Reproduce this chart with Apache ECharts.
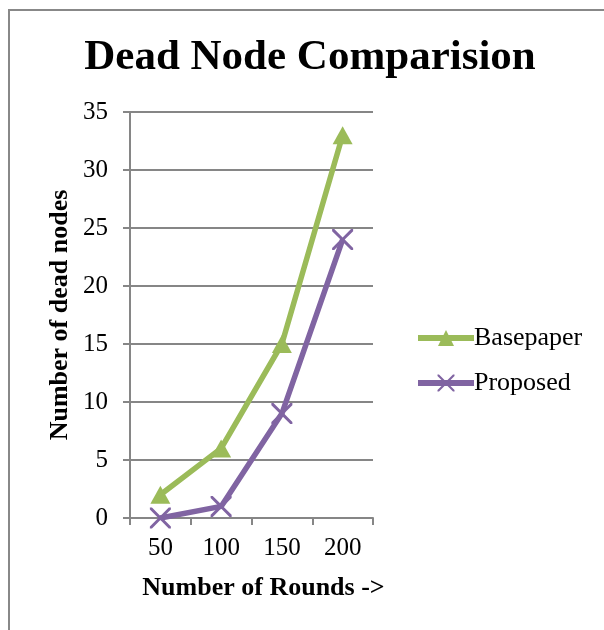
<!DOCTYPE html>
<html><head><meta charset="utf-8">
<script src="https://cdn.jsdelivr.net/npm/echarts@6/dist/echarts.min.js"></script>
<style>html,body{margin:0;padding:0;background:#fff}#c{width:604px;height:630px}</style>
</head><body><div id="c"></div>
<script>
var categories = ['50', '100', '150', '200'];
var basepaper = [2, 6, 15, 33];
var proposed = [0, 1, 9, 24];
var yTicks = { min: 0, max: 35, interval: 5 };
var F = '"Liberation Serif","Times New Roman",serif';
var xPath = 'path://M0,0L1,0L5,4L9,0L10,0L10,1L6,5L10,9L10,10L9,10L5,6L1,10L0,10L0,9L4,5L0,1Z';
var legTri = 'path://M0,5L56,5L56,11L0,11Z M20,16L28,0L36,16Z';
var legX = 'path://M0,5.5L56,5.5L56,11.5L0,11.5Z M19.5,0L21,0L28,7L35,0L36.5,0L36.5,1.5L29.5,8.5L36.5,15.5L36.5,17L35,17L28,10L21,17L19.5,17L19.5,15.5L26.5,8.5L19.5,1.5Z';
var chart = echarts.init(document.getElementById('c'));
chart.setOption({
  animation: false,
  backgroundColor: '#fff',
  graphic: [{ type: 'rect', shape: { x: 9, y: 10, width: 800, height: 800 }, style: { fill: 'none', stroke: '#888', lineWidth: 2 }, z: -1 }],
  title: { text: 'Dead Node Comparision', left: 305, top: 31, textAlign: 'center',
    textStyle: { fontFamily: F, fontWeight: 'bold', fontSize: 43, color: '#000' } },
  legend: { orient: 'vertical', left: 413, top: 320, itemWidth: 56, itemHeight: 17, itemGap: 19,
    textStyle: { fontFamily: F, fontSize: 26, color: '#000', padding: [0,0,0,-5] },
    data: [
      { name: 'Basepaper', icon: legTri, itemStyle: { color: '#9BBB59' } },
      { name: 'Proposed', icon: legX, itemStyle: { color: '#8064A2' } }
    ] },
  grid: { left: 130, right: 231, top: 112, bottom: 112 },
  xAxis: { type: 'category', data: categories, boundaryGap: true,
    name: 'Number of Rounds ->', nameLocation: 'middle', nameGap: 57,
    nameTextStyle: { fontFamily: F, fontWeight: 'bold', fontSize: 26, color: '#000', padding: [0,0,0,24] },
    axisLine: { lineStyle: { color: '#868686', width: 2 } },
    axisTick: { show: true, length: 7, lineStyle: { color: '#868686', width: 2 } },
    axisLabel: { fontFamily: F, fontSize: 25, color: '#000', margin: 18 } },
  yAxis: { type: 'value', min: yTicks.min, max: yTicks.max, interval: yTicks.interval,
    name: 'Number of dead nodes', nameLocation: 'middle', nameGap: 57, nameRotate: 90,
    nameTextStyle: { fontFamily: F, fontWeight: 'bold', fontSize: 26, color: '#000' },
    axisLine: { show: true, lineStyle: { color: '#868686', width: 2 } },
    axisTick: { show: true, length: 7, lineStyle: { color: '#868686', width: 2 } },
    splitLine: { lineStyle: { color: '#868686', width: 2 } },
    axisLabel: { fontFamily: F, fontSize: 25, color: '#000', margin: 22 } },
  series: [
    { name: 'Basepaper', type: 'line', data: basepaper, symbol: 'triangle', symbolSize: [20, 18],
      lineStyle: { color: '#9BBB59', width: 5.5 }, itemStyle: { color: '#9BBB59' }, z: 2 },
    { name: 'Proposed', type: 'line', data: proposed, symbol: xPath, symbolSize: 21,
      lineStyle: { color: '#8064A2', width: 5.5 }, itemStyle: { color: '#8064A2' }, z: 3 }
  ]
});
</script></body></html>
